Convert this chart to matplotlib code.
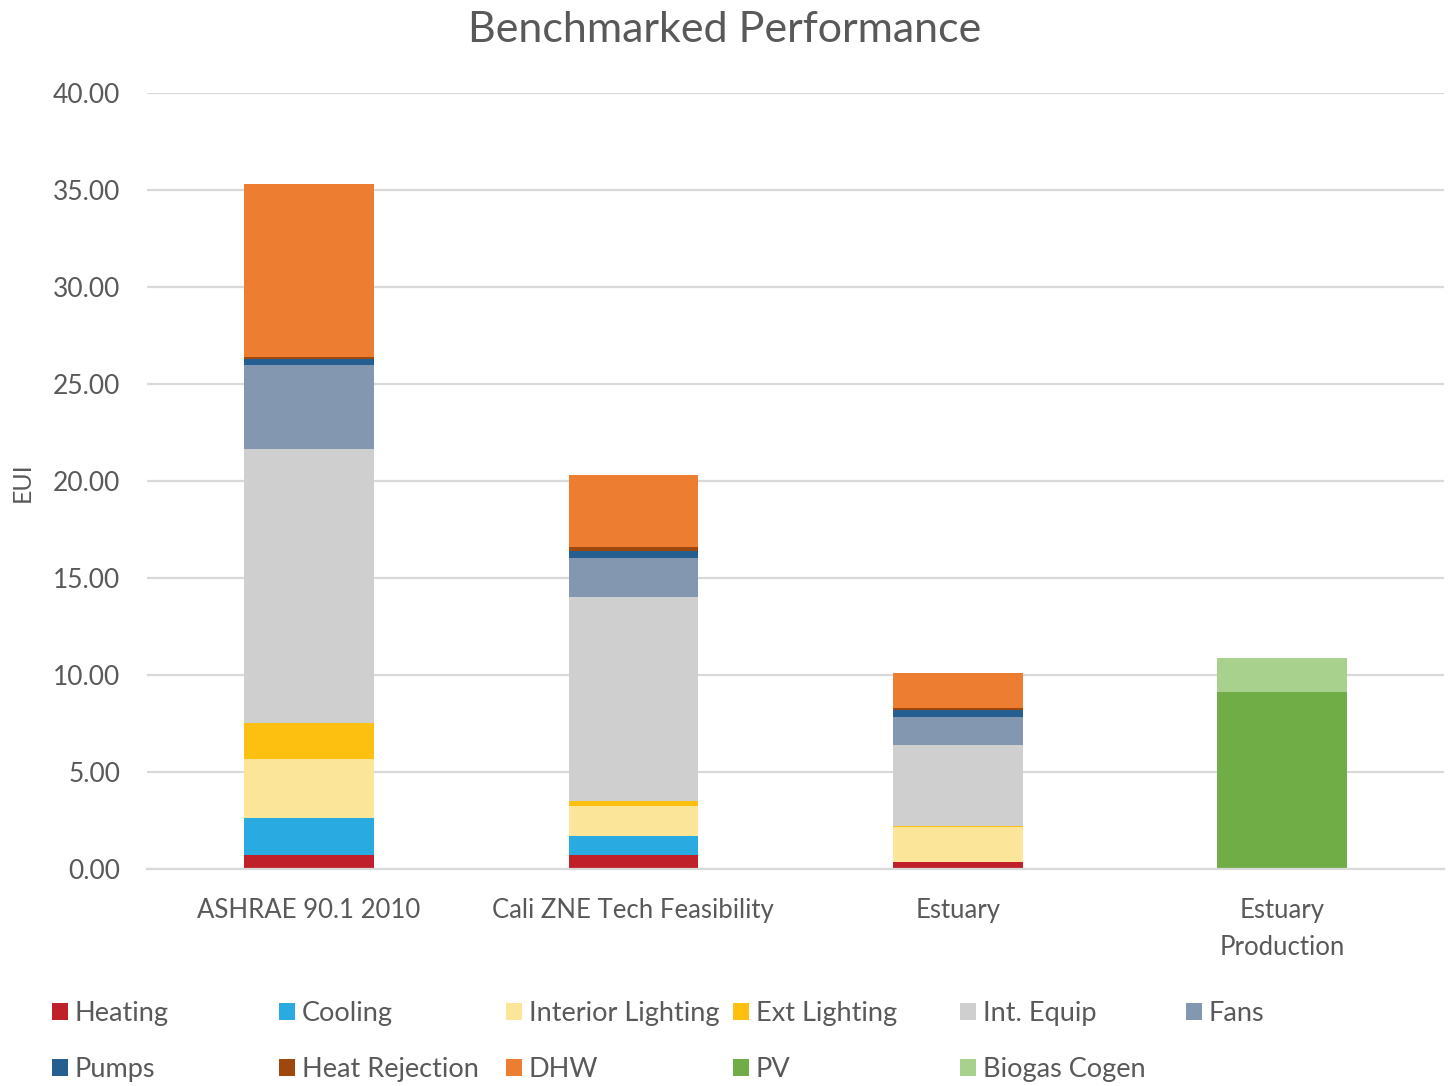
import matplotlib
matplotlib.use("Agg")
import matplotlib.pyplot as plt
from matplotlib.patches import Patch

plt.rcParams['font.family'] = ['Lato', 'DejaVu Sans']

# =========================
# Datos
# =========================
categories = ["ASHRAE 90.1 2010", "Cali ZNE Tech Feasibility", "Estuary", "Estuary\nProduction"]

series_names = ["Heating", "Cooling", "Interior Lighting", "Ext Lighting", "Int. Equip", "Fans",
                "Pumps", "Heat Rejection", "DHW", "PV", "Biogas Cogen"]

heating        = [0.72, 0.72, 0.38, 0.0]
cooling        = [1.92, 1.00, 0.00, 0.0]
interior_light = [3.01, 1.53, 1.77, 0.0]
ext_light      = [1.86, 0.27, 0.08, 0.0]
int_equip      = [14.14, 10.52, 4.16, 0.0]
fans           = [4.33, 2.01, 1.46, 0.0]
pumps          = [0.31, 0.36, 0.35, 0.0]
heat_rejection = [0.08, 0.17, 0.11, 0.0]
dhw            = [8.94, 3.73, 1.81, 0.0]
pv             = [0.0, 0.0, 0.0, 9.14]
biogas         = [0.0, 0.0, 0.0, 1.74]

series_values = [heating, cooling, interior_light, ext_light, int_equip, fans,
                 pumps, heat_rejection, dhw, pv, biogas]

colors = ["#C0202A", "#29ABE2", "#FBE599", "#FDC010", "#CFCFCF", "#8497B0",
          "#255E91", "#9E480E", "#ED7D31", "#70AD47", "#A9D18E"]

yticks = [0, 5, 10, 15, 20, 25, 30, 35, 40]

gray_txt = "#595959"
grid_col = "#D9D9D9"

# =========================
# Figura
# =========================
fig = plt.figure(figsize=(14.49, 10.86), dpi=100)
ax = fig.add_axes([0.1014, 0.1998, 0.8952, 0.7146])

x = list(range(len(categories)))
bottom = [0.0] * len(categories)
handles = []
for name, vals, col in zip(series_names, series_values, colors):
    ax.bar(x, vals, width=0.4, bottom=bottom, color=col, label=name, zorder=3)
    bottom = [b + v for b, v in zip(bottom, vals)]
    handles.append(Patch(facecolor=col, label=name))

ax.set_xlim(-0.5, 3.5)
ax.set_ylim(0, 40)
ax.set_yticks(yticks)
ax.set_yticklabels([f"{v:.2f}" for v in yticks])
ax.set_xticks(x)
ax.set_xticklabels(categories, linespacing=1.6)

ax.yaxis.grid(True, color=grid_col, linewidth=1.6, zorder=0)
for s in ["top", "right", "left"]:
    ax.spines[s].set_visible(False)
ax.spines["bottom"].set_color(grid_col)
ax.spines["bottom"].set_linewidth(1.6)
ax.spines["bottom"].set_zorder(4)

ax.tick_params(axis="y", length=0, pad=19, labelsize=19, labelcolor=gray_txt)
ax.tick_params(axis="x", length=0, pad=21, labelsize=18.5, labelcolor=gray_txt)

fig.text(22 / 1449, 1 - 482 / 1086, "EUI", rotation=90, ha="center", va="center",
         fontsize=18, color=gray_txt)

fig.suptitle("Benchmarked Performance", x=0.5, y=0.99, fontsize=31, color=gray_txt)

# =========================
# Leyenda (una por columna)
# =========================
col_x = [49, 276, 503, 730, 957, 1183]
for i, cx in enumerate(col_x):
    hs = [handles[i]]
    if i + 6 < len(handles):
        hs.append(handles[i + 6])
    leg = fig.legend(handles=hs, loc="upper left",
                     bbox_to_anchor=(cx / 1449, 1 - 998 / 1086),
                     frameon=False, fontsize=19.5, labelcolor=gray_txt,
                     handlelength=0.6, handleheight=0.6, handletextpad=0.25,
                     labelspacing=1.15, borderpad=0.1, borderaxespad=0)

fig.savefig("out.png", dpi=100)
